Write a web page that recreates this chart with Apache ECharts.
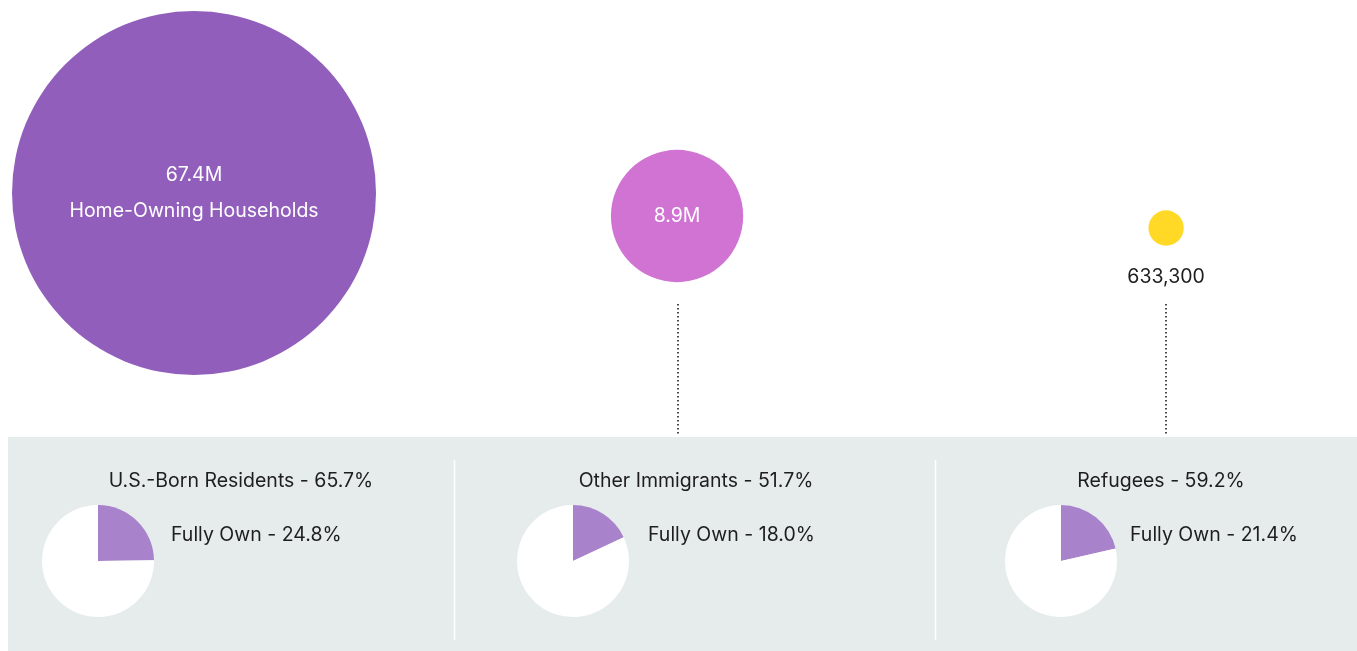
<!DOCTYPE html>
<html><head><meta charset="utf-8">
<script src="https://cdn.jsdelivr.net/npm/echarts@6/dist/echarts.min.js"></script>
<style>html,body{margin:0;padding:0;background:#fff;}#c{width:1357px;height:651px;}</style>
</head><body><div id="c"></div>
<script>
// ---- data ----
var groups = ['Home-Owning Households', 'Other Immigrants', 'Refugees'];
var householdCounts = [67400000, 8900000, 633300];
var countLabels = ['67.4M', '8.9M', '633,300'];
var panelGroups = ['U.S.-Born Residents', 'Other Immigrants', 'Refugees'];
var ownershipRate = [65.7, 51.7, 59.2];
var fullyOwnRate = [24.8, 18.0, 21.4];

// ---- styles / layout ----
var FONT = 'Inter, "Noto Sans", sans-serif';
var FS = 19.5;
var bubbleColors = ['#915ebc', '#d073d3', '#ffd926'];
var bubbleOffsets = [[3, -132.5], [0, -109.5], [3, -97.5]];
var maxDiameter = 364;
var pieCenters = [[98, 561], [573, 561], [1061, 561]];
var titleX = [241, 696, 1161];
var fullLabelX = [171, 648, 1130];
var maxCount = Math.max.apply(null, householdCounts);

var chart = echarts.init(document.getElementById('c'), null, {renderer: 'canvas'});

var scatterData = householdCounts.map(function (v, i) {
  var item = {
    value: [i, 0, v],
    symbolOffset: bubbleOffsets[i],
    itemStyle: {color: bubbleColors[i], opacity: 1}
  };
  if (i === 0) {
    item.label = {show: true, position: 'inside', color: '#fff', fontFamily: FONT, fontSize: FS,
      lineHeight: 36, formatter: countLabels[i] + '\n' + groups[i]};
  } else if (i === 1) {
    item.label = {show: true, position: 'inside', color: '#fff', fontFamily: FONT, fontSize: FS,
      formatter: countLabels[i]};
  } else {
    item.label = {show: true, position: 'bottom', distance: 21, color: '#1e1e1e', fontFamily: FONT, fontSize: FS,
      formatter: countLabels[i]};
  }
  return item;
});

var series = [{
  type: 'scatter',
  silent: true,
  z: 5,
  data: scatterData,
  symbol: 'circle',
  symbolSize: function (val) { return Math.sqrt(val[2] / maxCount) * maxDiameter; }
}];

fullyOwnRate.forEach(function (r, i) {
  series.push({
    type: 'pie',
    silent: true,
    z: 5,
    center: pieCenters[i],
    radius: [0, 56],
    startAngle: 90,
    clockwise: true,
    label: {show: false},
    labelLine: {show: false},
    emphasis: {disabled: true},
    itemStyle: {borderWidth: 0},
    data: [
      {name: 'Fully Own', value: r, itemStyle: {color: '#a982cc'}},
      {name: 'Other', value: 100 - r, itemStyle: {color: '#ffffff'}}
    ]
  });
});

var graphics = [
  {type: 'rect', z: 0, shape: {x: 8, y: 437, width: 1349, height: 214}, style: {fill: '#e6ecec'}},
  {type: 'line', z: 1, shape: {x1: 454.5, y1: 460, x2: 454.5, y2: 640}, style: {stroke: '#ffffff', lineWidth: 1.5}},
  {type: 'line', z: 1, shape: {x1: 935.5, y1: 460, x2: 935.5, y2: 640}, style: {stroke: '#ffffff', lineWidth: 1.5}},
  {type: 'line', z: 1, shape: {x1: 678, y1: 304, x2: 678, y2: 436}, style: {stroke: '#1e1e1e', lineWidth: 1.6, lineDash: [1.6, 2.4]}},
  {type: 'line', z: 1, shape: {x1: 1166, y1: 304, x2: 1166, y2: 436}, style: {stroke: '#1e1e1e', lineWidth: 1.6, lineDash: [1.6, 2.4]}}
];
panelGroups.forEach(function (g, i) {
  graphics.push({type: 'text', z: 10, x: titleX[i], y: 481,
    style: {text: g + ' - ' + ownershipRate[i].toFixed(1) + '%', textAlign: 'center', textVerticalAlign: 'middle',
      font: FS + 'px ' + FONT, fill: '#1e1e1e'}});
  graphics.push({type: 'text', z: 10, x: fullLabelX[i], y: 535,
    style: {text: 'Fully Own - ' + fullyOwnRate[i].toFixed(1) + '%', textAlign: 'left', textVerticalAlign: 'middle',
      font: FS + 'px ' + FONT, fill: '#1e1e1e'}});
});

chart.setOption({
  animation: false,
  backgroundColor: '#ffffff',
  grid: {left: 0, top: 0, width: 1357, height: 651},
  xAxis: {type: 'value', min: -0.393, max: 2.399, show: false},
  yAxis: {type: 'value', min: -1, max: 1, show: false},
  graphic: graphics,
  series: series
});
</script></body></html>
